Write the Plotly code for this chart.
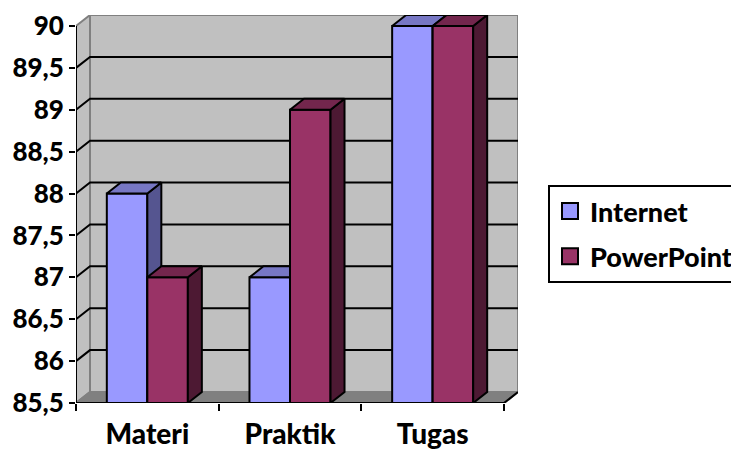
import numpy as np
import plotly.graph_objects as go

categories = ["Materi", "Praktik", "Tugas"]
internet = [88, 87, 90]
powerpoint = [87, 89, 90]
y_ticks = [85.5, 86, 86.5, 87, 87.5, 88, 88.5, 89, 89.5, 90]
y_labels = ["85,5", "86", "86,5", "87", "87,5", "88", "88,5", "89", "89,5", "90"]

FONT = "Lato"
Y0 = 85.5
DX = 14 / (428 / 3)
DY = 11 / (377 / 4.5)
BW = 0.284
XL, XR = -0.5, 2.5
GRID = "#000000"
WALLC = "#c0c0c0"
EDGE = "#808080"

fig = go.Figure()


def poly(xs, ys, fill, line, lw=2, xa="x", ya="y"):
    fig.add_trace(go.Scatter(x=xs, y=ys, mode="lines", fill="toself", fillcolor=fill,
                             line=dict(color=line, width=lw), xaxis=xa, yaxis=ya,
                             showlegend=False, hoverinfo="skip", cliponaxis=False))


def seg(xs, ys, color, lw=2, xa="x", ya="y"):
    fig.add_trace(go.Scatter(x=xs, y=ys, mode="lines", line=dict(color=color, width=lw),
                             xaxis=xa, yaxis=ya, showlegend=False, hoverinfo="skip",
                             cliponaxis=False))


ymax = max(y_ticks)
# side wall, back wall, floor
poly([XL, XL + DX, XL + DX, XL, XL], [Y0, Y0 + DY, ymax + DY, ymax, Y0], WALLC, EDGE)
poly([XL + DX, XR + DX, XR + DX, XL + DX, XL + DX],
     [Y0 + DY, Y0 + DY, ymax + DY, ymax + DY, Y0 + DY], WALLC, EDGE)
poly([XL, XL + DX, XR + DX, XR, XL], [Y0, Y0 + DY, Y0 + DY, Y0, Y0], EDGE, EDGE)
# gridlines
for t in y_ticks[1:-1]:
    seg([XL, XL + DX, XR + DX], [t, t + DY, t + DY], GRID)
# axis lines
seg([XL, XL], [Y0, ymax], "#000000")
seg([XL, XR], [Y0, Y0], "#000000")
seg([XR, XR + DX], [Y0, Y0 + DY], "#000000")


def series(name, vals, off, front, top, side, xa, ya):
    x = np.arange(len(vals))
    fig.add_trace(go.Bar(x=x, y=np.array(vals, dtype=float) - Y0, base=Y0, width=BW, offset=off,
                         marker=dict(color=front, line=dict(color="black", width=2)),
                         xaxis=xa, yaxis=ya, showlegend=False, hoverinfo="skip"))
    tx, ty, sx, sy = [], [], [], []
    for i, v in zip(x, vals):
        a, b = i + off, i + off + BW
        tx += [a, a + DX, b + DX, b, a, None]
        ty += [v, v + DY, v + DY, v, v, None]
        sx += [b, b + DX, b + DX, b, b, None]
        sy += [Y0, Y0 + DY, v + DY, v, Y0, None]
    poly(sx, sy, side, "black", xa=xa, ya=ya)
    poly(tx, ty, top, "black", xa=xa, ya=ya)
    fig.add_trace(go.Scatter(x=[None], y=[None], mode="markers", name=name, legendgroup=name,
                             marker=dict(symbol="square", size=16, color=front,
                                         line=dict(color="black", width=2)),
                             xaxis=xa, yaxis=ya))


series("Internet", internet, -BW, "#9999ff", "#7777c4", "#555590", "x2", "y2")
series("PowerPoint", powerpoint, 0, "#993366", "#73264d", "#4d1933", "x3", "y3")

xr = [XL, XR + DX]
yr = [Y0, ymax + DY]
xf = dict(family=FONT, size=28, color="black", weight=900)
yf = dict(family=FONT, size=26, color="black", weight=900)
lf = dict(family=FONT, size=27, color="black", weight=900)
fig.update_layout(
    width=731, height=450, autosize=False,
    margin=dict(l=76, r=213, t=15, b=47, pad=0, autoexpand=False),
    paper_bgcolor="white", plot_bgcolor="rgba(0,0,0,0)",
    barmode="overlay",
    xaxis=dict(range=xr, tickmode="array", tickvals=[0, 1, 2], ticktext=categories, showgrid=False,
               zeroline=False, showline=False, ticks="outside", ticklen=0, tickfont=xf,
               ticklabelstandoff=6, automargin=False,
               minor=dict(tickmode="linear", tick0=-0.5, dtick=1, ticks="outside", ticklen=7,
                          tickwidth=2, tickcolor="black", showgrid=False)),
    yaxis=dict(range=yr, tickmode="array", tickvals=y_ticks, ticktext=y_labels, showgrid=False,
               zeroline=False, showline=False, ticks="outside", ticklen=6, tickwidth=2,
               tickcolor="black", tickfont=yf, automargin=False),
    xaxis2=dict(range=xr, overlaying="x", visible=False),
    yaxis2=dict(range=yr, overlaying="y", visible=False),
    xaxis3=dict(range=xr, overlaying="x", visible=False),
    yaxis3=dict(range=yr, overlaying="y", visible=False),
    legend=dict(x=(548 - 76) / 442, y=(403 - 185) / 388, xanchor="left", yanchor="top",
                bgcolor="white", bordercolor="black", borderwidth=2, font=lf,
                entrywidth=140, entrywidthmode="pixels",
                traceorder="grouped", tracegroupgap=7),
)
fig.write_html("out.html", config={"displayModeBar": False},
               post_script="document.body.style.margin='0';")
